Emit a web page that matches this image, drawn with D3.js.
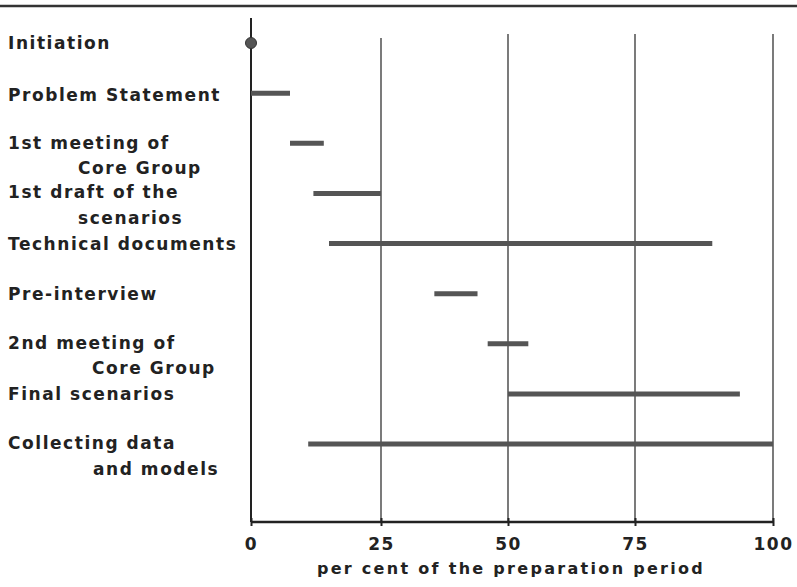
<!DOCTYPE html>
<html>
<head>
<meta charset="utf-8">
<script src="https://cdn.jsdelivr.net/npm/d3@7"></script>
<style>
  body { margin: 0; background: #fff; }
  text { font-family: "DejaVu Sans", sans-serif; font-weight: bold; fill: #222; }
</style>
</head>
<body>
<svg id="chart" width="797" height="587"></svg>
<script>
// phases of the preparation period, in per cent
var tasks = ["Initiation", "Problem Statement", "1st meeting of Core Group",
  "1st draft of the scenarios", "Technical documents", "Pre-interview",
  "2nd meeting of Core Group", "Final scenarios", "Collecting data and models"];
var starts = [0, 0, 7.5, 12, 15, 35.5, 46, 50, 11];
var ends = [0, 7.5, 14, 25, 89, 44, 54, 94, 100];
var labelLines = [["Initiation"], ["Problem Statement"], ["1st meeting of", "Core Group"],
  ["1st draft of the", "scenarios"], ["Technical documents"], ["Pre-interview"],
  ["2nd meeting of", "Core Group"], ["Final scenarios"], ["Collecting data", "and models"]];
var labelIndent = [[0], [0], [0, 70], [0, 70], [0], [0], [0, 84], [0], [0, 85]];
var ticks = [0, 25, 50, 75, 100];

var svg = d3.select('#chart');
var x = d3.scaleLinear().domain(ticks).range([251, 381, 508, 635, 773]);
var rowY = d3.scalePoint().domain(tasks).range([43, 444]);
var lineY = [[43], [95], [143, 168], [192, 218], [244], [294], [343, 368], [394], [443, 469]];
var bottom = 522;

// top rule
svg.append('line').attr('x1', 0).attr('x2', 797).attr('y1', 6).attr('y2', 6)
  .attr('stroke', '#333').attr('stroke-width', 2.5);

// grid lines
svg.selectAll('.grid').data(ticks.slice(1)).enter().append('line')
  .attr('class', 'grid')
  .attr('x1', function(d) { return x(d); }).attr('x2', function(d) { return x(d); })
  .attr('y1', function(d) { return d == 25 ? 38 : 34; }).attr('y2', bottom)
  .attr('stroke', '#333').attr('stroke-width', 1.3);

// y axis line
svg.append('line').attr('x1', x(0)).attr('x2', x(0)).attr('y1', 18).attr('y2', bottom)
  .attr('stroke', '#222').attr('stroke-width', 2);

// x axis
var axis = svg.append('g').attr('transform', 'translate(0,' + bottom + ')')
  .call(d3.axisBottom(x).tickValues(ticks).tickSize(4).tickPadding(12));
axis.select('.domain').attr('stroke', '#222').attr('stroke-width', 2.5)
  .attr('d', 'M' + x(0) + ',0H' + x(100));
axis.selectAll('.tick line').attr('stroke', '#222').attr('stroke-width', 2).attr('y1', -4);
axis.selectAll('.tick text').attr('font-size', 17).attr('fill', '#222')
  .style('font-family', '"DejaVu Sans", sans-serif').style('font-weight', 'bold')
  .style('letter-spacing', '1.5px');

svg.append('text').attr('x', 511).attr('y', 574).attr('text-anchor', 'middle')
  .attr('font-size', 16).style('letter-spacing', '2.3px')
  .text('per cent of the preparation period');

// bars
svg.selectAll('.bar').data(tasks).enter().filter(function(d, i) { return ends[i] > starts[i]; })
  .append('line').attr('class', 'bar')
  .attr('x1', function(d) { return x(starts[tasks.indexOf(d)]); })
  .attr('x2', function(d) { return x(ends[tasks.indexOf(d)]); })
  .attr('y1', function(d) { return rowY(d); }).attr('y2', function(d) { return rowY(d); })
  .attr('stroke', '#555').attr('stroke-width', 5);

// initiation point
svg.append('circle').attr('cx', x(starts[0])).attr('cy', rowY(tasks[0])).attr('r', 5.5)
  .attr('fill', '#555').attr('stroke', '#333').attr('stroke-width', 1);

// labels
labelLines.forEach(function(lines, i) {
  lines.forEach(function(t, j) {
    svg.append('text').attr('x', 8 + labelIndent[i][j]).attr('y', lineY[i][j])
      .attr('dy', '0.35em').attr('font-size', 17).style('letter-spacing', '1.55px').text(t);
  });
});
</script>
</body>
</html>
